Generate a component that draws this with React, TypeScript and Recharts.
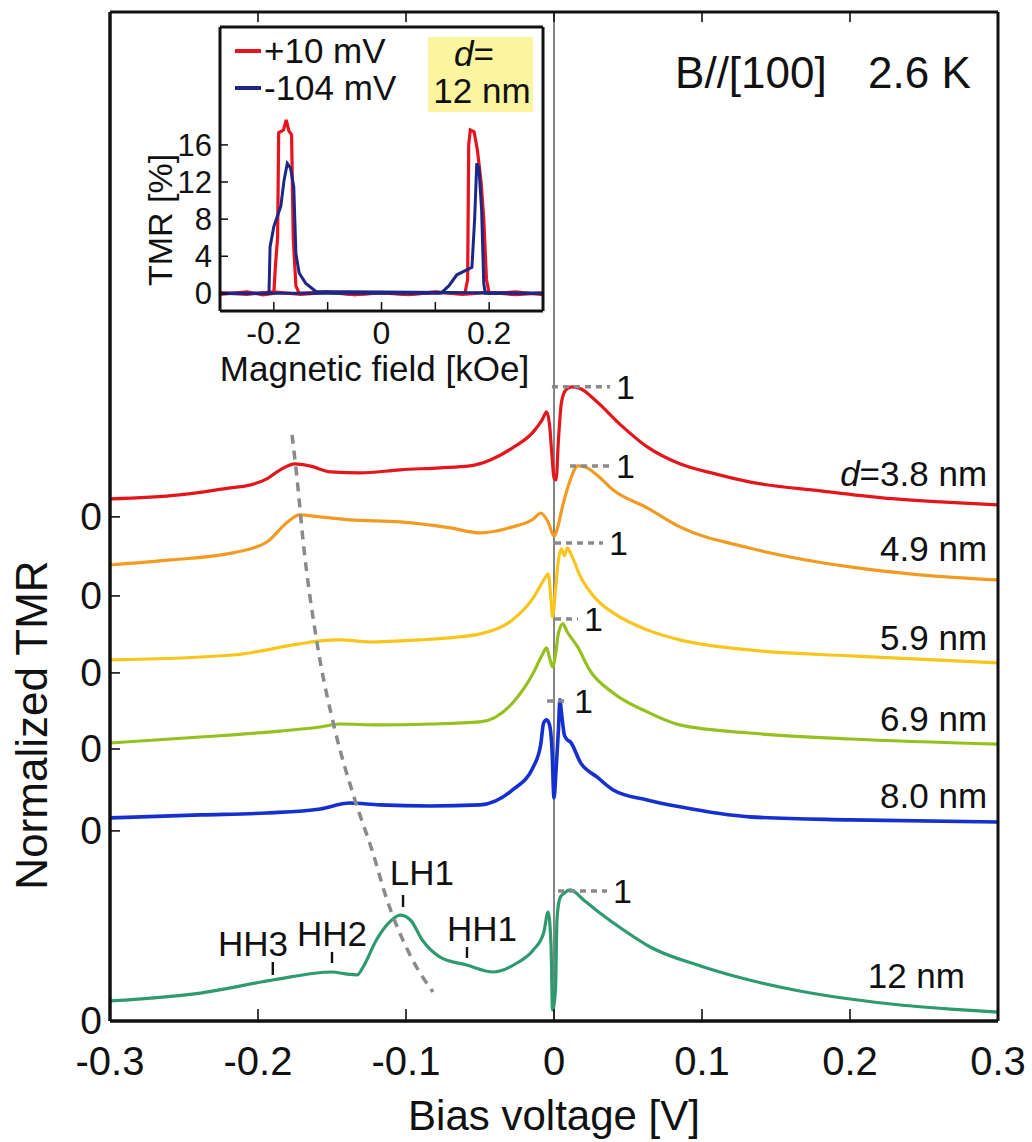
import React from 'react';
import { LineChart, Line, XAxis, YAxis, ReferenceLine, ReferenceDot, Legend } from 'recharts';

const FONT = '"Liberation Sans", Arial, Helvetica, sans-serif';
const INK = '#111';

// ---- main panel: normalized TMR vs bias voltage ----
const biasTicks = [-0.3, -0.2, -0.1, 0, 0.1, 0.2, 0.3];
// zero line of each stacked trace, bottom to top (12, 8.0, 6.9, 5.9, 4.9, 3.8 nm)
const zeroLevels = [0, 1.462, 2.092, 2.677, 3.269, 3.877];
const wellLabels = ['12 nm', '8.0 nm', '6.9 nm', '5.9 nm', '4.9 nm', '=3.8 nm'];
const traceColors = ['#2e9a6f', '#1630cf', '#95c11f', '#f7c51c', '#f29a21', '#e3161c'];

// [bias V, TMR / TMR(peak)]
const tmr12 = [
  [-0.3, 0.154], [-0.239, 0.215], [-0.19, 0.315], [-0.15, 0.377], [-0.141, 0.362], [-0.133, 0.354],
  [-0.129, 0.415], [-0.12, 0.623], [-0.111, 0.762], [-0.104, 0.815], [-0.097, 0.777], [-0.089, 0.623],
  [-0.077, 0.492], [-0.059, 0.431], [-0.041, 0.377], [-0.025, 0.446], [-0.014, 0.546], [-0.007, 0.677],
  [-0.004, 0.838], [-0.002, 0.585], [-0.001, 0.085], [0.001, 0.238], [0.002, 0.777], [0.004, 0.946],
  [0.007, 0.985], [0.011, 1.008], [0.02, 0.931], [0.031, 0.831], [0.047, 0.7], [0.065, 0.569],
  [0.099, 0.423], [0.132, 0.315], [0.166, 0.231], [0.2, 0.169], [0.234, 0.123], [0.268, 0.092], [0.3, 0.069],
];
const tmr80 = [
  [-0.3, 0.1], [-0.239, 0.123], [-0.194, 0.138], [-0.158, 0.169], [-0.138, 0.215], [-0.118, 0.2],
  [-0.084, 0.192], [-0.05, 0.2], [-0.028, 0.315], [-0.014, 0.492], [-0.009, 0.662], [-0.007, 0.831],
  [-0.005, 0.854], [-0.003, 0.815], [-0.0014, 0.638], [0, 0.254], [0.0014, 0.469], [0.003, 0.777],
  [0.004, 1.008], [0.005, 0.915], [0.007, 0.738], [0.009, 0.7], [0.011, 0.685], [0.018, 0.523],
  [0.029, 0.415], [0.04, 0.315], [0.063, 0.238], [0.085, 0.185], [0.132, 0.108], [0.2, 0.085], [0.3, 0.069],
];
const tmr69 = [
  [-0.3, 0.046], [-0.239, 0.092], [-0.185, 0.138], [-0.158, 0.169], [-0.145, 0.192], [-0.118, 0.185],
  [-0.084, 0.192], [-0.05, 0.208], [-0.028, 0.354], [-0.014, 0.585], [-0.008, 0.723], [-0.005, 0.777],
  [-0.003, 0.7], [-0.001, 0.631], [0.001, 0.723], [0.003, 0.892], [0.006, 0.962], [0.009, 0.9],
  [0.016, 0.785], [0.024, 0.608], [0.04, 0.431], [0.063, 0.285], [0.085, 0.185], [0.132, 0.123],
  [0.2, 0.077], [0.3, 0.038],
];
const tmr59 = [
  [-0.3, 0.1], [-0.217, 0.138], [-0.172, 0.223], [-0.158, 0.246], [-0.145, 0.254], [-0.124, 0.238],
  [-0.091, 0.254], [-0.064, 0.277], [-0.05, 0.3], [-0.028, 0.408], [-0.014, 0.577], [-0.006, 0.731],
  [-0.004, 0.762], [-0.002, 0.562], [-0.001, 0.431], [0.001, 0.638], [0.003, 0.869], [0.005, 0.954],
  [0.007, 0.9], [0.009, 0.962], [0.012, 0.9], [0.018, 0.738], [0.029, 0.562], [0.04, 0.462],
  [0.063, 0.331], [0.085, 0.254], [0.132, 0.177], [0.2, 0.131], [0.3, 0.077],
];
const tmr49 = [
  [-0.3, 0.238], [-0.259, 0.277], [-0.217, 0.331], [-0.194, 0.415], [-0.18, 0.569], [-0.172, 0.623],
  [-0.158, 0.608], [-0.138, 0.585], [-0.104, 0.569], [-0.07, 0.523], [-0.05, 0.485], [-0.028, 0.531],
  [-0.014, 0.592], [-0.009, 0.638], [-0.004, 0.569], [0, 0.462], [0.002, 0.508], [0.006, 0.7],
  [0.011, 0.892], [0.016, 1.0], [0.021, 0.992], [0.029, 0.931], [0.04, 0.815], [0.063, 0.677],
  [0.085, 0.531], [0.132, 0.369], [0.2, 0.223], [0.247, 0.162], [0.3, 0.123],
];
const tmr38 = [
  [-0.3, 0.138], [-0.253, 0.169], [-0.219, 0.223], [-0.205, 0.246], [-0.194, 0.292], [-0.185, 0.362],
  [-0.175, 0.408], [-0.165, 0.392], [-0.151, 0.346], [-0.131, 0.338], [-0.104, 0.362], [-0.077, 0.377],
  [-0.057, 0.392], [-0.043, 0.438], [-0.028, 0.531], [-0.014, 0.654], [-0.008, 0.746], [-0.005, 0.808],
  [-0.003, 0.708], [-0.0014, 0.477], [0, 0.3], [0.0014, 0.285], [0.003, 0.592], [0.005, 0.877],
  [0.008, 0.977], [0.012, 1.0], [0.018, 0.985], [0.029, 0.885], [0.045, 0.708], [0.063, 0.538],
  [0.085, 0.408], [0.109, 0.331], [0.132, 0.269], [0.18, 0.2], [0.222, 0.146], [0.261, 0.115], [0.3, 0.092],
];
// dashed guide following the LH1 peak (plot units)
const lh1Guide = [
  [-0.177, 4.508], [-0.1736, 4.169], [-0.1696, 3.7], [-0.16, 2.9], [-0.148, 2.238],
  [-0.1345, 1.7], [-0.123, 1.315], [-0.1128, 0.931], [-0.0973, 0.508], [-0.0818, 0.223],
];

// ---- inset: TMR [%] vs magnetic field [kOe] ----
const fieldTicks = [-0.2, -0.1, 0, 0.1, 0.2];
const tmrTicks = [0, 4, 8, 12, 16];
const legendNames = ['+10 mV', '-104 mV'];
const red10Down = [
  [-0.3, -0.1], [-0.25, 0.15], [-0.22, -0.15], [-0.2, 0], [-0.197, 3], [-0.193, 6], [-0.191, 17.3],
  [-0.182, 17.6], [-0.177, 18.7], [-0.172, 17.5], [-0.167, 17.1], [-0.164, 6], [-0.159, 0.8],
  [-0.153, 0], [-0.1, 0.15], [-0.05, -0.15], [0, 0.1], [0.05, -0.1], [0.1, 0.15], [0.15, -0.1],
  [0.2, 0.1], [0.25, -0.15], [0.3, 0.05],
];
const red10Up = [
  [-0.3, 0.05], [-0.25, -0.1], [-0.2, 0.15], [-0.15, -0.1], [-0.1, 0.1], [-0.05, -0.15], [0, 0.05],
  [0.05, -0.15], [0.1, 0.1], [0.155, 0], [0.16, 1.5], [0.162, 16], [0.165, 17.6], [0.172, 17.4],
  [0.178, 15.5], [0.185, 12], [0.19, 8], [0.195, 1.5], [0.2, 0], [0.25, 0.15], [0.3, -0.15],
];
const blue104Down = [
  [-0.3, 0], [-0.209, 0], [-0.207, 5], [-0.2, 7.2], [-0.187, 9.4], [-0.181, 12.2], [-0.175, 14],
  [-0.169, 13.5], [-0.163, 11.5], [-0.159, 4.3], [-0.153, 2.2], [-0.141, 1.1], [-0.122, 0.2], [0.3, 0],
];
const blue104Up = [
  [-0.3, 0], [0.11, 0], [0.125, 0.8], [0.14, 2], [0.168, 2.8], [0.173, 8], [0.177, 14],
  [0.181, 13.5], [0.186, 9], [0.19, 1], [0.193, 0], [0.3, 0],
];

const traces = [tmr12, tmr80, tmr69, tmr59, tmr49, tmr38].map((pts, i) => ({
  color: traceColors[i],
  data: pts.map(([v, t]) => ({ v, y: zeroLevels[i] + t })),
}));
const guideData = lh1Guide.map(([v, y]) => ({ v, y }));
const toField = (pts: number[][]) => pts.map(([f, t]) => ({ f, t }));

const fmt = (v: number) => (v === 0 ? '0' : v.toFixed(1));

const BiasTick = ({ x, y, payload }: any) => (
  <g>
    <line x1={x} x2={x} y1={y} y2={y - 12} stroke={INK} strokeWidth={1.6} />
    <text x={x} y={y + 54} textAnchor="middle" fontSize={40} fontFamily={FONT} fill={INK}>
      {fmt(payload.value)}
    </text>
  </g>
);
const TopTick = ({ x, y }: any) => <line x1={x} x2={x} y1={y} y2={y + 10} stroke={INK} strokeWidth={1.6} />;
const ZeroTick = ({ x, y }: any) => (
  <g>
    <line x1={x} x2={x + 10} y1={y} y2={y} stroke={INK} strokeWidth={1.6} />
    <text x={x - 8} y={y + 13} textAnchor="end" fontSize={39} fontFamily={FONT} fill={INK}>0</text>
  </g>
);
const FieldTick = ({ x, y, payload }: any) => (
  <g>
    <line x1={x} x2={x} y1={y} y2={y - 9} stroke={INK} strokeWidth={1.5} />
    {[-0.2, 0, 0.2].includes(payload.value) && (
      <text x={x} y={y + 33} textAnchor="middle" fontSize={32} fontFamily={FONT} fill={INK}>
        {fmt(payload.value)}
      </text>
    )}
  </g>
);
const TmrTick = ({ x, y, payload }: any) => (
  <g>
    <line x1={x} x2={x + 8} y1={y} y2={y} stroke={INK} strokeWidth={1.5} />
    <text x={x - 8} y={y + 11} textAnchor="end" fontSize={31} fontFamily={FONT} fill={INK}>
      {payload.value}
    </text>
  </g>
);

const BottomTitle = ({ viewBox, text, size, dx = 0, dy }: any) => (
  <text x={viewBox.x + viewBox.width / 2 + dx} y={viewBox.y + dy} textAnchor="middle" fontSize={size} fontFamily={FONT} fill={INK}>
    {text}
  </text>
);
const SideTitle = ({ viewBox, text, size, dx, dy }: any) => {
  const x = viewBox.x + dx;
  const y = viewBox.y + dy;
  return (
    <text x={x} y={y} transform={`rotate(-90 ${x} ${y})`} textAnchor="middle" fontSize={size} fontFamily={FONT} fill={INK}>
      {text}
    </text>
  );
};
const Note = ({ viewBox, text, size = 35, anchor = 'middle', italic }: any) => {
  const x = viewBox.x + viewBox.width / 2;
  const y = viewBox.y + viewBox.height / 2 + size * 0.36;
  return (
    <text x={x} y={y} textAnchor={anchor} fontSize={size} fontFamily={FONT} fill={INK}>
      {italic && <tspan fontStyle="italic">{italic}</tspan>}
      {text}
    </text>
  );
};

const InsetLegend = ({ payload }: any) => {
  const items = (payload || []).filter((p: any) => legendNames.includes(p.value));
  return (
    <div style={{ position: 'relative', width: 560, height: 130, fontFamily: FONT, color: INK }}>
      {items.map((p: any, i: number) => (
        <div key={i} style={{ position: 'absolute', left: 235, top: 32 + i * 37, height: 37, display: 'flex', alignItems: 'center', fontSize: 35, lineHeight: '37px', whiteSpace: 'nowrap' }}>
          <span style={{ display: 'inline-block', width: 26, height: 4, background: p.color, marginRight: 3 }} />
          {p.value}
        </div>
      ))}
      <div style={{ position: 'absolute', left: 428, top: 37, width: 105, height: 75, background: '#fcf5a0' }}>
        <div style={{ position: 'absolute', left: 0, width: 92, top: -2, textAlign: 'center', fontSize: 35, lineHeight: '37px' }}>
          <i>d</i>=
        </div>
        <div style={{ position: 'absolute', left: 0, width: 108, top: 35, textAlign: 'center', fontSize: 35, lineHeight: '37px' }}>
          12 nm
        </div>
      </div>
    </div>
  );
};

export default function App() {
  const yDomain = [0, 7.76];
  const axisStroke = { stroke: INK, strokeWidth: 3.5 };
  // dashed "1" marks: bias range of each mark, same order as traces
  const oneMarks = [[0.0027, 0.0358], [-0.0047, 0.0095], [0.0007, 0.0162], [0.0007, 0.0331], [0.0108, 0.0378], [-0.0014, 0.0378]];
  const labelSpots = [[0.2777, 0.354], [0.2926, 1.738], [0.2926, 2.331], [0.2926, 2.954], [0.2926, 3.638], [0.2926, 4.215]];
  const subbands = [
    { name: 'HH3', v: -0.19, y0: 0.354, y1: 0.454, lv: -0.2034, ly: 0.6 },
    { name: 'HH2', v: -0.15, y0: 0.446, y1: 0.531, lv: -0.15, ly: 0.677 },
    { name: 'LH1', v: -0.102, y0: 0.877, y1: 0.969, lv: -0.0892, ly: 1.146 },
    { name: 'HH1', v: -0.0588, y0: 0.485, y1: 0.569, lv: -0.0486, ly: 0.715 },
  ];

  return (
    <div style={{ position: 'absolute', left: 0, top: 0, width: 1032, height: 1142, background: '#fff' }}>
      <LineChart width={1032} height={1142} margin={{ top: 10, right: 32, bottom: 21, left: 10 }}>
        <XAxis
          type="number" dataKey="v" domain={[-0.3, 0.3]} ticks={biasTicks} interval={0} allowDataOverflow
          tickSize={0} tickMargin={0} tickLine={false} tick={<BiasTick />} axisLine={axisStroke} height={100}
          label={<BottomTitle text="Bias voltage [V]" size={42} dy={109} />}
        />
        <XAxis
          xAxisId="top" orientation="top" type="number" dataKey="v" domain={[-0.3, 0.3]} ticks={biasTicks}
          interval={0} allowDataOverflow tickSize={0} tickMargin={0} tickLine={false} tick={<TopTick />}
          axisLine={{ stroke: INK, strokeWidth: 3 }} height={2}
        />
        <YAxis
          type="number" domain={yDomain} ticks={zeroLevels} interval={0} allowDataOverflow
          tickSize={0} tickMargin={0} tickLine={false} tick={<ZeroTick />} axisLine={axisStroke} width={100}
          label={<SideTitle text="Normalized TMR" size={44} dx={37} dy={713} />}
        />
        <YAxis yAxisId="right" orientation="right" type="number" domain={yDomain} tick={false} tickLine={false} axisLine={{ stroke: INK, strokeWidth: 3 }} width={2} />

        <ReferenceLine x={0} stroke="#444" strokeWidth={1.3} />

        {traces.map((tr, i) => (
          <Line
            key={i} data={tr.data} dataKey="y" type="monotone" stroke={tr.color}
            strokeWidth={i === 1 ? 3.6 : 3.2} dot={false} isAnimationActive={false}
          />
        ))}
        <Line data={guideData} dataKey="y" type="monotone" stroke="#8a8a8a" strokeWidth={3.5} strokeDasharray="9 7" dot={false} isAnimationActive={false} />

        {oneMarks.map(([a, b], i) => (
          <ReferenceLine
            key={'one' + i}
            segment={[{ x: a, y: zeroLevels[i] + 1 }, { x: b, y: zeroLevels[i] + 1 }]}
            stroke="#8a8a8a" strokeWidth={3.5} strokeDasharray="6 5"
            label={{ value: '1', position: 'right', offset: 6, fontSize: 34, fill: INK, fontFamily: FONT }}
          />
        ))}

        {labelSpots.map(([v, y], i) => (
          <ReferenceDot
            key={'lab' + i} x={v} y={y} r={0} fill="none" stroke="none"
            label={<Note text={wellLabels[i]} italic={i === 5 ? 'd' : undefined} anchor="end" size={35} />}
          />
        ))}

        {subbands.map((s) => (
          <ReferenceLine key={s.name + 't'} segment={[{ x: s.v, y: s.y0 }, { x: s.v, y: s.y1 }]} stroke={INK} strokeWidth={2.4} />
        ))}
        {subbands.map((s) => (
          <ReferenceDot key={s.name} x={s.lv} y={s.ly} r={0} fill="none" stroke="none" label={<Note text={s.name} size={35} />} />
        ))}

        <ReferenceDot x={0.0818} y={7.3} r={0} fill="none" stroke="none" label={<Note text="B//[100]" anchor="start" size={44} />} />
        <ReferenceDot x={0.2122} y={7.3} r={0} fill="none" stroke="none" label={<Note text="2.6 K" anchor="start" size={44} />} />
      </LineChart>

      <div style={{ position: 'absolute', left: 0, top: 0 }}>
        <LineChart width={560} height={400} margin={{ top: 25, right: 15, bottom: 19, left: 160 }}>
          <XAxis
            type="number" dataKey="f" domain={[-0.3, 0.3]} ticks={fieldTicks} interval={0} allowDataOverflow
            tickSize={0} tickMargin={0} tickLine={false} tick={<FieldTick />} axisLine={{ stroke: INK, strokeWidth: 3 }} height={70}
            label={<BottomTitle text="Magnetic field [kOe]" size={35} dx={-7} dy={70} />}
          />
          <XAxis xAxisId="top" orientation="top" type="number" dataKey="f" domain={[-0.3, 0.3]} tick={false} tickLine={false} axisLine={{ stroke: INK, strokeWidth: 3 }} height={2} />
          <YAxis
            type="number" domain={[-1.9, 28.7]} ticks={tmrTicks} interval={0} allowDataOverflow
            tickSize={0} tickMargin={0} tickLine={false} tick={<TmrTick />} axisLine={{ stroke: INK, strokeWidth: 3 }} width={60}
            label={<SideTitle text="TMR [%]" size={34} dx={12} dy={193} />}
          />
          <YAxis yAxisId="right" orientation="right" type="number" domain={[-1.9, 28.7]} tick={false} tickLine={false} axisLine={{ stroke: INK, strokeWidth: 3 }} width={2} />
          <Legend layout="vertical" align="center" verticalAlign="middle" content={<InsetLegend />} wrapperStyle={{ left: 0, top: 0, width: 560, height: 130 }} />

          <Line name="+10 mV" data={toField(red10Down)} dataKey="t" type="linear" stroke="#e8141c" strokeWidth={3.2} dot={false} isAnimationActive={false} />
          <Line name="+10 mV up" legendType="none" data={toField(red10Up)} dataKey="t" type="linear" stroke="#e8141c" strokeWidth={3.2} dot={false} isAnimationActive={false} />
          <Line name="-104 mV" data={toField(blue104Down)} dataKey="t" type="linear" stroke="#1c2787" strokeWidth={3} dot={false} isAnimationActive={false} />
          <Line name="-104 mV up" legendType="none" data={toField(blue104Up)} dataKey="t" type="linear" stroke="#1c2787" strokeWidth={3} dot={false} isAnimationActive={false} />
        </LineChart>
      </div>
    </div>
  );
}
